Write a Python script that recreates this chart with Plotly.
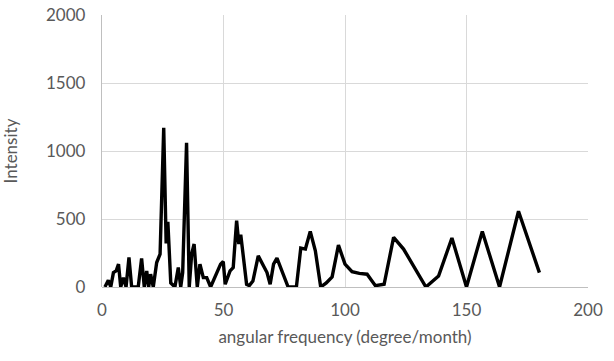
import plotly.graph_objects as go

# Spectrum vertices: angular frequency (degree/month) and intensity
freq = [1.2, 2.6, 3.6, 4.7, 5.8, 6.8, 7.7, 8.8, 9.9, 11.1, 12.2, 13.6, 14.9, 16.3,
        17.4, 18.4, 19.2, 20.0, 21.1, 22.5, 23.9, 25.4, 26.4, 27.1, 27.6, 28.3, 30.0,
        31.4, 32.4, 33.2, 34.8, 35.9, 36.9, 37.9, 39.2, 40.3, 41.7, 43.1, 44.7,
        46.3, 47.2, 48.8, 49.9, 50.7, 52.7, 54.0, 55.4, 56.3, 57.1, 59.5, 60.6,
        62.1, 64.3, 66.7, 67.9, 69.2, 70.6, 72.0, 74.0, 76.6, 80.0, 81.8, 83.7,
        85.7, 87.8, 90.0, 92.3, 94.7, 97.3, 100.0, 102.9, 105.9, 109.1, 112.5,
        116.1, 120.0, 124.1, 128.6, 133.3, 138.5, 144.0, 150.0, 156.5, 163.6,
        171.4, 180.0]
intensity = [0, 50, 0, 106, 118, 168, 0, 69, 0, 217, 0, 0, 0, 210,
             0, 118, 0, 94, 0, 180, 242, 1170, 320, 480, 316, 30, 0,
             143, 0, 106, 1060, 0, 242, 316, 0, 168, 69, 69, 0,
             69, 106, 168, 187, 20, 118, 143, 488, 316, 385, 20, 10,
             44, 229, 143, 106, 20, 168, 212, 118, 0, 0, 286, 279,
             409, 266, 0, 30, 74, 308, 168, 113, 100, 94, 10,
             20, 365, 279, 143, 0, 81, 360, 0, 409, 0,
             557, 106]

x_ticks = [0, 50, 100, 150, 200]
y_ticks = [0, 500, 1000, 1500, 2000]

grid = "#d9d9d9"
label_col = "#595959"
font_family = "Lato, 'Open Sans', sans-serif"
fs = 17

fig = go.Figure(
    go.Scatter(
        x=freq, y=intensity, mode="lines",
        line=dict(color="black", width=3.4),
        hoverinfo="skip", showlegend=False,
    )
)

fig.update_layout(
    width=614, height=361,
    margin=dict(l=102, r=26, t=15, b=74),
    paper_bgcolor="white", plot_bgcolor="white",
    font=dict(family=font_family, size=fs, color=label_col),
    xaxis=dict(
        range=[0, 200], tickvals=x_ticks, ticktext=[str(v) for v in x_ticks],
        showgrid=True, gridcolor=grid, gridwidth=1.3,
        showline=False, zeroline=False, ticks="", ticklabelstandoff=11,
        tickfont=dict(size=fs, color=label_col),
        title=dict(text="angular frequency (degree/month)", standoff=12,
                   font=dict(size=fs, color=label_col)),
        automargin=False, mirror=False,
    ),
    yaxis=dict(
        range=[0, 2000], tickvals=y_ticks, ticktext=[str(v) for v in y_ticks],
        showgrid=True, gridcolor=grid, gridwidth=1.3,
        showline=True, linecolor="#bfbfbf", linewidth=1.3,
        zeroline=True, zerolinecolor="#bfbfbf", zerolinewidth=1.3,
        ticks="", ticklabelstandoff=12,
        tickfont=dict(size=fs, color=label_col),
        title=dict(text="Intensity", standoff=26,
                   font=dict(size=fs, color=label_col)),
        automargin=False,
    ),
)

fig.write_html("out.html")
